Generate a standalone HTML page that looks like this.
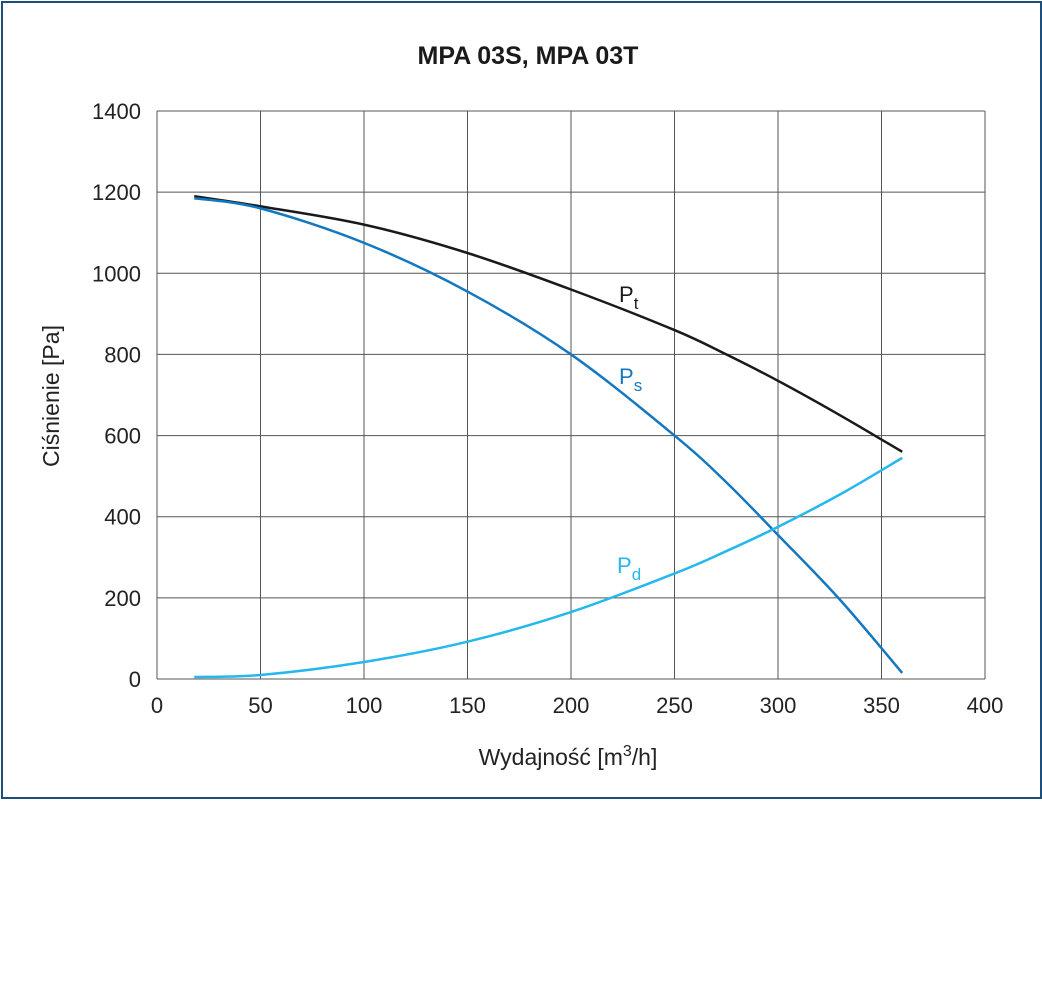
<!DOCTYPE html>
<html><head><meta charset="utf-8">
<style>
body{margin:0;background:#fff;font-family:"Liberation Sans","DejaVu Sans",sans-serif;}
#frame{position:absolute;left:1px;top:1px;width:1037px;height:794px;border:2px solid #1d4f7c;}
</style></head>
<body>
<div id="frame"></div>
<svg id="chart" width="1042" height="1008" style="position:absolute;left:0;top:0" xmlns="http://www.w3.org/2000/svg"></svg>
<script>
const xTicks=[0,50,100,150,200,250,300,350,400];
const yTicks=[0,200,400,600,800,1000,1200,1400];
const flow=[18,50,100,150,200,250,275,300,330,360];
const pt=[1190,1165,1120,1050,960,860,800,735,650,560];
const ps=[1185,1160,1075,955,800,600,485,355,195,15];
const pd=[5,10,42,92,165,260,315,375,455,545];
const X=v=>157+v*(828/400);
const Y=v=>679-v*(568/1400);
const svg=document.getElementById('chart');
const NS='http://www.w3.org/2000/svg';
function mk(t,a){const e=document.createElementNS(NS,t);for(const k in a)e.setAttribute(k,a[k]);svg.appendChild(e);return e;}
xTicks.forEach(v=>{
  const l=mk('line',{x1:X(v),x2:X(v),y1:Y(0),y2:Y(1400),stroke:'#555','stroke-width':1});
  
  
  const t=mk('text',{x:X(v),y:713,'text-anchor':'middle','font-size':22,fill:'#222'});
  t.textContent=v;
  
  
});
yTicks.forEach(v=>{
  const l=mk('line',{x1:X(0),x2:X(400),y1:Y(v),y2:Y(v),stroke:'#555','stroke-width':1});
  
  
  const t=mk('text',{x:141,y:Y(v)+8,'text-anchor':'end','font-size':22,fill:'#222'});
  t.textContent=v;
  
  
});
function path(ys){
  const p=flow.map((f,i)=>[X(f),Y(ys[i])]);
  let d='M'+p[0][0]+','+p[0][1];
  for(let i=0;i<p.length-1;i++){
    const p0=p[i-1]||p[i],p1=p[i],p2=p[i+1],p3=p[i+2]||p2;
    const c1=[p1[0]+(p2[0]-p0[0])/6,p1[1]+(p2[1]-p0[1])/6];
    const c2=[p2[0]-(p3[0]-p1[0])/6,p2[1]-(p3[1]-p1[1])/6];
    d+=`C${c1[0]},${c1[1]} ${c2[0]},${c2[1]} ${p2[0]},${p2[1]}`;
  }
  return d;
}
const c1=mk('path',{d:path(pt),fill:'none',stroke:'#1a1a1a','stroke-width':2.5});


const c2=mk('path',{d:path(ps),fill:'none',stroke:'#1478c0','stroke-width':2.5});


const c3=mk('path',{d:path(pd),fill:'none',stroke:'#25b8ec','stroke-width':2.5});


</script>
<svg width="1042" height="1008" style="position:absolute;left:0;top:0" xmlns="http://www.w3.org/2000/svg">
<text x="528" y="64" text-anchor="middle" font-size="25" font-weight="bold" fill="#1a1a1a">MPA 03S, MPA 03T</text>
<text x="619" y="302" font-size="22" fill="#1a1a1a">P<tspan font-size="17" dy="7">t</tspan></text>
<text x="619" y="384" font-size="22" fill="#1478c0">P<tspan font-size="17" dy="7">s</tspan></text>
<text x="617" y="573" font-size="22" fill="#25b8ec">P<tspan font-size="17" dy="7">d</tspan></text>
<text x="568" y="765" text-anchor="middle" font-size="23" fill="#222">Wydajność [m<tspan font-size="16" dy="-9">3</tspan><tspan dy="9">/h]</tspan></text>
<text transform="translate(59,396) rotate(-90)" text-anchor="middle" font-size="23" fill="#222">Ciśnienie [Pa]</text>
</svg>
</body></html>
